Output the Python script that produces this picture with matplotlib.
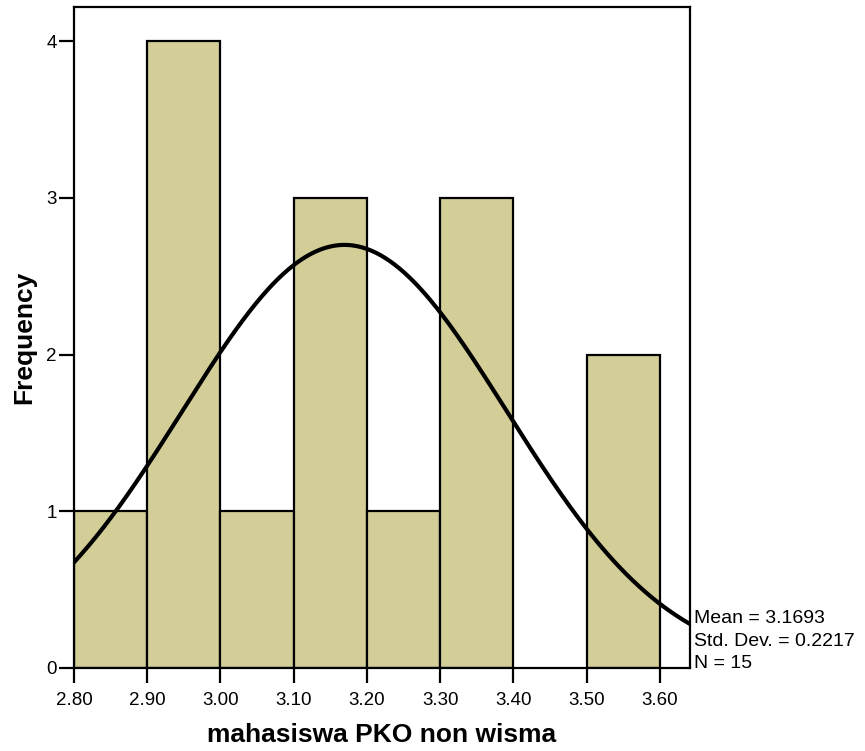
import numpy as np
import matplotlib
matplotlib.use("Agg")
import matplotlib.pyplot as plt

plt.rcParams['font.family'] = ['Liberation Sans', 'DejaVu Sans']

bin_edges = [2.80, 2.90, 3.00, 3.10, 3.20, 3.30, 3.40, 3.50, 3.60]
frequencies = [1, 4, 1, 3, 1, 3, 0, 2]
mean = 3.1693
std_dev = 0.2217
n = 15
x_ticks = [2.80, 2.90, 3.00, 3.10, 3.20, 3.30, 3.40, 3.50, 3.60]
x_tick_labels = ["2.80", "2.90", "3.00", "3.10", "3.20", "3.30", "3.40", "3.50", "3.60"]
y_ticks = [0, 1, 2, 3, 4]
stats_lines = ["Mean = 3.1693", "Std. Dev. = 0.2217", "N = 15"]

W, H = 865, 751
fig = plt.figure(figsize=(W / 100, H / 100), dpi=100)
ax = fig.add_axes([74 / W, 83 / H, 616 / W, 661 / H])

lefts = np.array(bin_edges[:-1])
widths = np.diff(bin_edges)
for l, w, f in zip(lefts, widths, frequencies):
    if f > 0:
        ax.bar(l, f, width=w, align='edge', color='#D3CE97', edgecolor='black',
               linewidth=1.6, zorder=2)

xlim = (2.80, 3.641)
xs = np.linspace(xlim[0], xlim[1], 400)
bw = 0.1
ys = n * bw / (std_dev * np.sqrt(2 * np.pi)) * np.exp(-0.5 * ((xs - mean) / std_dev) ** 2)
ax.plot(xs, ys, color='black', linewidth=3.0, zorder=3, clip_on=True)

ax.set_xlim(*xlim)
ax.set_ylim(0, 4.217)
ax.set_xticks(x_ticks)
ax.set_xticklabels(x_tick_labels)
ax.set_yticks(y_ticks)
ax.tick_params(axis='both', direction='out', length=10.5, width=1.6, labelsize=13.5)
ax.tick_params(axis='x', pad=6.5)
ax.tick_params(axis='y', pad=2)
for s in ax.spines.values():
    s.set_linewidth(1.6)

ax.set_xlabel('mahasiswa PKO non wisma', fontsize=19, fontweight='bold', labelpad=10)
ax.set_ylabel('Frequency', fontsize=19, fontweight='bold', labelpad=7)

for txt, base in zip(stats_lines, [623, 646, 668]):
    fig.text(694 / W, 1 - base / H, txt, fontsize=14, va='baseline', ha='left')

fig.savefig('out.png', dpi=100)
